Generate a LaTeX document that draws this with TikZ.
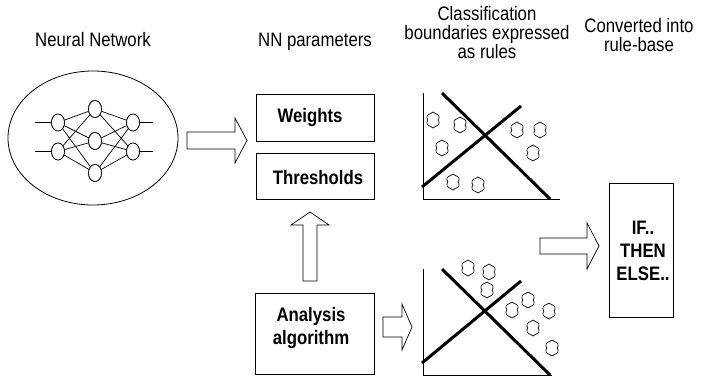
\documentclass[tikz,border=0pt]{standalone}
\usepackage{fontspec}
\setmainfont{Liberation Sans}[FakeStretch=0.86]
\usetikzlibrary{shapes.geometric,shapes.symbols,calc}

% hollow block arrow: tail point, direction angle, length, shaft half-width, head half-width, head length
\newcommand\hollowarrow[6]{%
  \draw[blockarrow, shift={(#1)}, rotate=#2]
    (0,-#4) -- (#3-#6,-#4) -- (#3-#6,-#5) -- (#3,0) -- (#3-#6,#5) -- (#3-#6,#4) -- (0,#4) -- cycle;}

\begin{document}
\begin{tikzpicture}[x=1pt,y=-1pt,
  title/.style={font=\fontsize{19.5}{19}\selectfont, align=center, inner sep=0, anchor=base},
  boxtext/.style={font=\fontsize{19.5}{23}\selectfont\bfseries, align=center, inner sep=0, anchor=base},
  panel/.style={draw, line width=0.8pt, inner sep=0},
  neuron/.style={draw, ellipse, minimum width=13pt, minimum height=17pt, inner sep=0, line width=0.7pt, fill=white},
  wire/.style={line width=0.7pt},
  blockarrow/.style={draw, line width=0.7pt, fill=white, line join=miter},
  axis/.style={line width=0.9pt},
  boundary/.style={line width=3pt},
  blob/.style={draw, cloud, cloud puffs=6, cloud puff arc=130, cloud ignores aspect, minimum width=13.5pt, minimum height=16pt, inner sep=0, line width=0.7pt}
]
\useasboundingbox (0,0) rectangle (706,377);

% column titles (base anchor = baseline of the last line)
\node[title] (tnn) at (93,47) {Neural Network};
\node[title] (tpar) at (315,47) {NN parameters};
\node[title] (tcls) at (487,59) {Classification\\boundaries expressed\\as rules};
\node[title] (tconv) at (639,52) {Converted into\\rule-base};

% neural network inside its ellipse
\node[draw, ellipse, minimum width=170pt, minimum height=134pt, line width=0.8pt] (nn) at (93,138) {};
\node[neuron] (i1) at (58,122.5) {};
\node[neuron] (i2) at (58,151.5) {};
\node[neuron] (h1) at (95,109) {};
\node[neuron] (h2) at (95,141) {};
\node[neuron] (h3) at (95,173) {};
\node[neuron] (o1) at (133,122.5) {};
\node[neuron] (o2) at (133,151.5) {};
\coordinate (in1) at (35,122.5);
\coordinate (in2) at (35,151.5);
\coordinate (out1) at (153,122.5);
\coordinate (out2) at (153,151.5);
\draw[wire] (in1) -- (i1.west) (in2) -- (i2.west) (o1.east) -- (out1) (o2.east) -- (out2);
\foreach \a in {i1,i2} \foreach \b in {h1,h2,h3} \draw[wire] (\a) -- (\b);
\foreach \a in {h1,h2,h3} \foreach \b in {o1,o2} \draw[wire] (\a) -- (\b);
\foreach \n in {i1,i2,h1,h2,h3,o1,o2} \node[neuron] at (\n) {};

% parameter boxes
\node[panel, minimum width=118pt, minimum height=47pt] (weights) at (315,117.5) {};
\node[boxtext] (weightsl) at (310,123) {Weights};
\node[panel, minimum width=118pt, minimum height=46pt] (thresh) at (315,176) {};
\node[boxtext] (threshl) at (318,184) {Thresholds};
\node[panel, minimum width=119pt, minimum height=81pt] (analysis) at (314.5,333.5) {};
\node[boxtext] (analysisl) at (311,344) {Analysis\\algorithm};
\node[panel, minimum width=64pt, minimum height=134pt] (rules) at (641,250) {};
\node[boxtext] (rulesl) at (643,280) {IF..\\THEN\\ELSE..};

% block arrows
\coordinate (a1) at (187,140.5);
\coordinate (a2) at (310,281);
\coordinate (a3) at (383,327);
\coordinate (a4) at (540,246);
\hollowarrow{a1}{0}{60}{8.5}{22.5}{12}
\hollowarrow{a2}{90}{69}{7}{19}{13}
\hollowarrow{a3}{0}{29}{10}{23}{10}
\hollowarrow{a4}{0}{59}{8}{23}{12}

% upper classification plot
\draw[axis] (423,93) -- (423,199) -- (560,199);
\draw[boundary] (442,93) -- (550,199);
\draw[boundary] (422,187) -- (521,106);
\foreach \p in {(433,120),(460,125),(442,148),(517,130),(540,130),(533,153),(453,182),(478,185)}
  \node[blob] at \p {};

% lower classification plot
\draw[axis] (423,269) -- (423,375) -- (552,375);
\draw[boundary] (442,269) -- (550,375);
\draw[boundary] (422,363) -- (521,281);
\foreach \p in {(468,268),(489,272),(487,290),(528,300),(512,310),(549,311),(533,328),(552,348)}
  \node[blob] at \p {};
\end{tikzpicture}
\end{document}
